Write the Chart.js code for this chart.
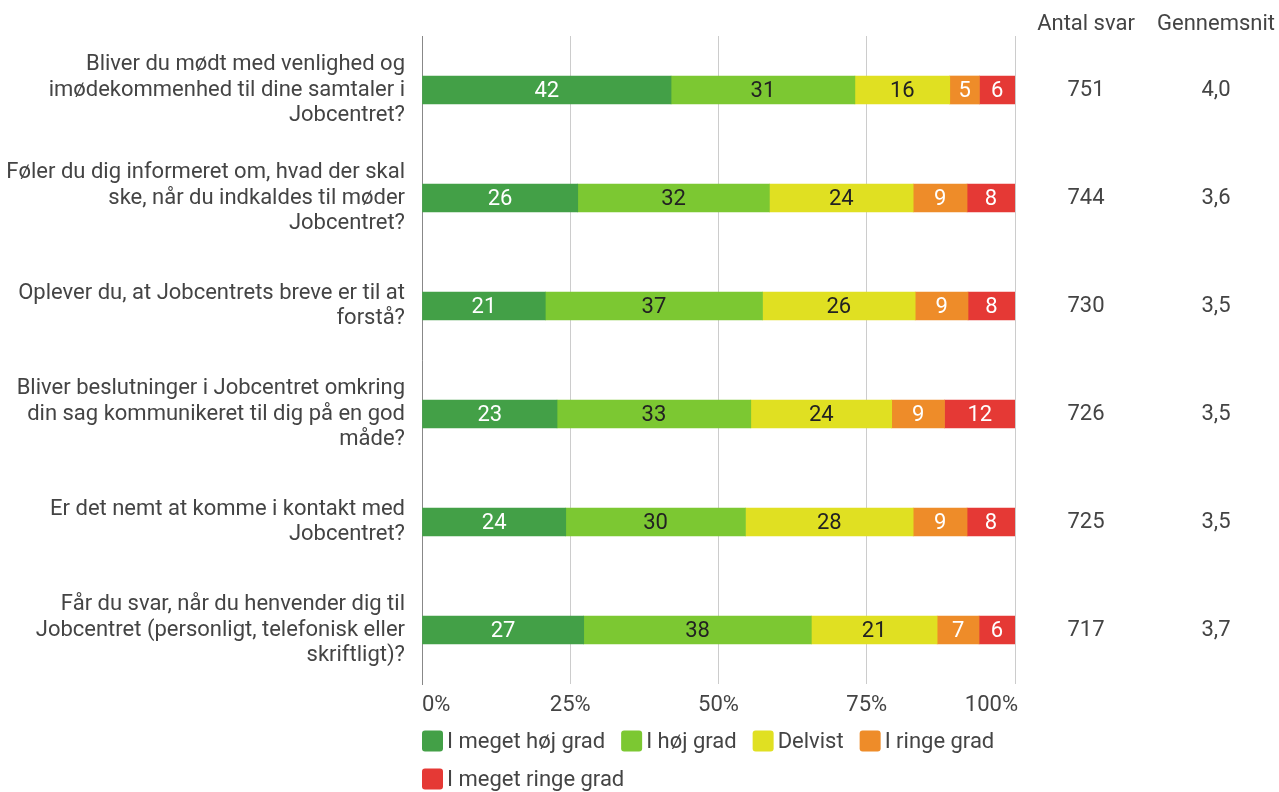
<!DOCTYPE html>
<html>
<head>
<meta charset="utf-8">
<script src="https://cdn.jsdelivr.net/npm/chart.js@4"></script>
<style>
  html, body { margin: 0; padding: 0; background: #fff; }
  #wrap { width: 1279px; height: 792px; }
</style>
</head>
<body>
<div id="wrap"><canvas id="survey-chart"></canvas></div>
<script>
// Questions (multi-line labels)
const questions = [
  ['Bliver du mødt med venlighed og', 'imødekommenhed til dine samtaler i', 'Jobcentret?'],
  ['Føler du dig informeret om, hvad der skal', 'ske, når du indkaldes til møder', 'Jobcentret?'],
  ['Oplever du, at Jobcentrets breve er til at', 'forstå?'],
  ['Bliver beslutninger i Jobcentret omkring', 'din sag kommunikeret til dig på en god', 'måde?'],
  ['Er det nemt at komme i kontakt med', 'Jobcentret?'],
  ['Får du svar, når du henvender dig til', 'Jobcentret (personligt, telefonisk eller', 'skriftligt)?']
];

const seriesNames = ['I meget høj grad', 'I høj grad', 'Delvist', 'I ringe grad', 'I meget ringe grad'];
const seriesColors = ['#43a047', '#7cc832', '#e0e022', '#ee8c29', '#e53935'];
const labelColors = ['#ffffff', '#222222', '#222222', '#ffffff', '#ffffff'];

const meget_hoej = [42, 26, 21, 23, 24, 27];
const hoej = [31, 32, 37, 33, 30, 38];
const delvist = [16, 24, 26, 24, 28, 21];
const ringe = [5, 9, 9, 9, 9, 7];
const meget_ringe = [6, 8, 8, 12, 8, 6];

const antalSvar = ['751', '744', '730', '726', '725', '717'];
const gennemsnit = ['4,0', '3,6', '3,5', '3,5', '3,5', '3,7'];
const tickLabels = ['0%', '25%', '50%', '75%', '100%'];

const rawSeries = [meget_hoej, hoej, delvist, ringe, meget_ringe];

// Stacked to 100% - each row scaled by its own total
const rowTotals = questions.map((q, i) => rawSeries.reduce((s, arr) => s + arr[i], 0));

const FONT = 'Roboto, "Noto Sans", sans-serif';
const FSIZE = 22;
const TEXT = '#444444';

const datasets = rawSeries.map((arr, k) => ({
  label: seriesNames[k],
  data: arr.map((v, i) => v / rowTotals[i] * 100),
  raw: arr,
  backgroundColor: seriesColors[k],
  borderWidth: 0,
  barThickness: 28
}));

// Values inside the segments
const segmentLabels = {
  id: 'segmentLabels',
  afterDatasetsDraw(chart) {
    const ctx = chart.ctx;
    ctx.save();
    ctx.font = FSIZE + 'px ' + FONT;
    ctx.textAlign = 'center';
    ctx.textBaseline = 'middle';
    chart.data.datasets.forEach((ds, k) => {
      chart.getDatasetMeta(k).data.forEach((bar, i) => {
        const cx = (bar.x + bar.base) / 2;
        ctx.fillStyle = labelColors[k];
        ctx.fillText(String(ds.raw[i]), cx, bar.y + 1);
      });
    });
    ctx.restore();
  }
};

// x tick labels, right-hand table and legend
const extras = {
  id: 'extras',
  afterDraw(chart) {
    const ctx = chart.ctx;
    const x = chart.scales.x;
    const y = chart.scales.y;
    const area = chart.chartArea;
    ctx.save();
    ctx.font = FSIZE + 'px ' + FONT;
    ctx.fillStyle = TEXT;
    ctx.textBaseline = 'middle';

    // x ticks: first starts at line, last ends at line, others centred
    tickLabels.forEach((t, i) => {
      const px = x.getPixelForValue(i * 25);
      ctx.textAlign = i === 0 ? 'left' : (i === tickLabels.length - 1 ? 'right' : 'center');
      const dx = i === tickLabels.length - 1 ? 3 : 0;
      ctx.fillText(t, px + dx, area.bottom + 21);
    });

    ctx.textAlign = 'center';
    ctx.fillText('Antal svar', 1086, 24);
    ctx.fillText('Gennemsnit', 1216, 24);
    questions.forEach((q, i) => {
      const py = y.getPixelForValue(i);
      ctx.fillText(antalSvar[i], 1086, py);
      ctx.fillText(gennemsnit[i], 1216, py);
    });

    // legend
    ctx.textAlign = 'left';
    let lx = area.left;
    let ly = 741;
    const box = 21;
    seriesNames.forEach((name, k) => {
      const w = box + 4 + ctx.measureText(name).width;
      if (lx + w > area.right + 5) {
        lx = area.left;
        ly += 38;
      }
      ctx.fillStyle = seriesColors[k];
      ctx.beginPath();
      ctx.roundRect(lx, ly - box / 2, box, box, 3);
      ctx.fill();
      ctx.fillStyle = TEXT;
      ctx.fillText(name, lx + box + 4, ly + 1);
      lx += w + 16;
    });
    ctx.restore();
  }
};

new Chart(document.getElementById('survey-chart'), {
  type: 'bar',
  data: { labels: questions, datasets: datasets },
  plugins: [segmentLabels, extras],
  options: {
    indexAxis: 'y',
    responsive: true,
    maintainAspectRatio: false,
    animation: false,
    layout: { padding: { top: 36, right: 264, left: 0, bottom: 0 } },
    scales: {
      x: {
        stacked: true,
        min: 0,
        max: 100,
        afterFit(scale) {
          scale.height = 108;
          scale.paddingLeft = 0;
          scale.paddingRight = 0;
        },
        grid: { color: '#cccccc', lineWidth: 1, drawTicks: false },
        border: { display: false },
        ticks: { display: false, stepSize: 25 }
      },
      y: {
        stacked: true,
        afterFit(scale) {
          scale.width = 422;
          scale.paddingTop = 0;
          scale.paddingBottom = 0;
        },
        grid: { display: false, drawTicks: false },
        border: { display: true, color: '#888888', width: 1 },
        ticks: {
          padding: 17,
          color: TEXT,
          font: { family: FONT, size: FSIZE, lineHeight: 1.18 }
        }
      }
    },
    plugins: {
      legend: { display: false },
      tooltip: { enabled: false }
    }
  }
});
</script>
</body>
</html>
